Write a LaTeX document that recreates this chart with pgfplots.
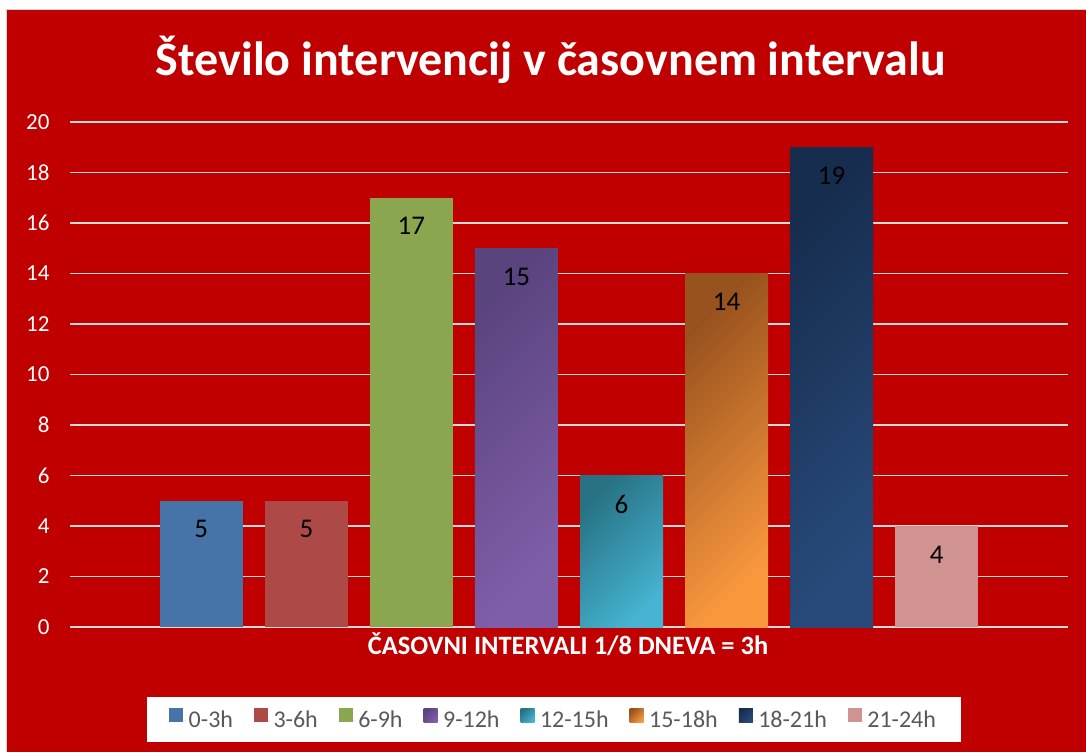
\documentclass[border=0pt]{standalone}
\usepackage{pgfplots}
\pgfplotsset{compat=1.18}
\usepackage{fontspec}
\setmainfont{Carlito}
\definecolor{bgred}{RGB}{192,0,0}
\definecolor{gridc}{RGB}{217,217,217}
\definecolor{legtext}{RGB}{89,89,89}
\definecolor{cA}{RGB}{70,116,168}
\definecolor{cB}{RGB}{173,74,72}
\definecolor{cC}{RGB}{138,166,78}
\definecolor{cDa}{RGB}{90,68,126}
\definecolor{cDb}{RGB}{127,94,168}
\definecolor{cEa}{RGB}{40,114,132}
\definecolor{cEb}{RGB}{70,180,210}
\definecolor{cFa}{RGB}{152,82,30}
\definecolor{cFb}{RGB}{250,152,62}
\definecolor{cGa}{RGB}{22,45,78}
\definecolor{cGb}{RGB}{40,74,122}
\definecolor{cH}{RGB}{209,147,145}
\begin{document}
\begin{tikzpicture}[x=1pt,y=1pt]
\useasboundingbox (0,0) rectangle (1086,752);
\fill[white] (0,0) rectangle (1086,752);
\fill[bgred] (7,0) rectangle (1086,742);
\draw[gray!35, line width=1pt] (6.5,0) -- (6.5,742.5) -- (1086,742.5);
\begin{axis}[
  at={(70pt,125pt)}, anchor=south west,
  scale only axis, width=998pt, height=505pt,
  xmin=-1.25, xmax=8.25, ymin=0, ymax=20,
  axis line style={draw=none},
  major tick length=0pt,
  xtick=\empty,
  ytick={0,2,...,20},
  ymajorgrids,
  grid style={gridc, line width=1.6pt},
  /pgf/number format/assume math mode=true,
  yticklabel style={text=white, font=\fontsize{23}{27}\selectfont, xshift=-17pt},
  mybar/.style={ybar, bar width=83pt, bar shift=0pt, draw=none},
  nodes near coords,
  every node near coord/.append style={text=black, font=\fontsize{27}{32}\selectfont, anchor=center, yshift=-28.5pt},
  legend image code/.code={\path[#1, draw=none] (0pt,-2pt) rectangle (14pt,12pt);\path (0pt,0pt) -- (17pt,0pt);},
  legend columns=8,
  legend style={at={(0.0772,-0.184)}, anchor=west, draw=none, fill=white,
    font=\fontsize{24}{28}\selectfont, text=legtext,
    inner xsep=22pt, inner ysep=11pt,
    nodes={inner xsep=2.5pt},
    /tikz/every even column/.append style={column sep=18.5pt}},
]
\addplot[mybar, fill=cA] coordinates {(0,5)};
\addlegendentry{0-3h}
\addplot[mybar, fill=cB] coordinates {(1,5)};
\addlegendentry{3-6h}
\addplot[mybar, fill=cC] coordinates {(2,17)};
\addlegendentry{6-9h}
\addplot[mybar, left color=cDa, right color=cDb, shading angle=45] coordinates {(3,15)};
\addlegendentry{9-12h}
\addplot[mybar, left color=cEa, right color=cEb, shading angle=45] coordinates {(4,6)};
\addlegendentry{12-15h}
\addplot[mybar, left color=cFa, right color=cFb, shading angle=45] coordinates {(5,14)};
\addlegendentry{15-18h}
\addplot[mybar, left color=cGa, right color=cGb, shading angle=45] coordinates {(6,19)};
\addlegendentry{18-21h}
\addplot[mybar, fill=cH] coordinates {(7,4)};
\addlegendentry{21-24h}
\end{axis}
\node[font=\fontsize{48}{56}\selectfont\bfseries, text=white, anchor=base] at (551,676) {Število intervencij v časovnem intervalu};
\node[font=\fontsize{26.5}{30}\selectfont\bfseries, text=white, anchor=base] at (568,97) {ČASOVNI INTERVALI 1/8 DNEVA = 3h};
\end{tikzpicture}
\end{document}
